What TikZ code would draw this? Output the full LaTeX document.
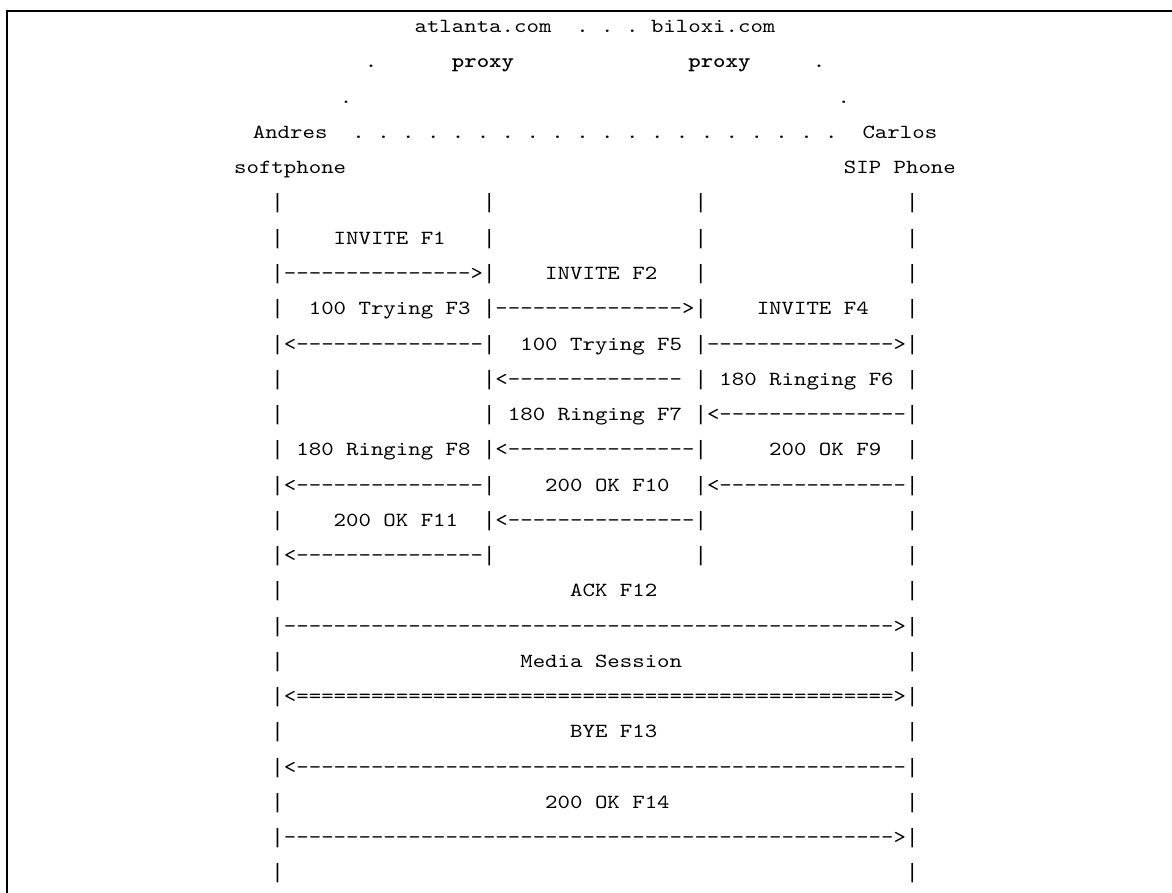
\documentclass[tikz,border=0pt]{standalone}
\font\asciitt="[lmmono10-regular]:extend=1.185" at 10pt
\font\asciibf="[lmmonolt10-bold]:extend=1.185" at 10pt
\font\asciibar="Liberation Mono" at 10.369pt
\newcommand\lane{{\asciibar|}}
\newcommand\dashrun[1]{\foreach\i in {1,...,#1}{-}}
\newcommand\eqrun[1]{\foreach\i in {1,...,#1}{=}}
\tikzset{
  msg/.style={anchor=base west,inner sep=0pt,outer sep=0pt,font=\asciitt},
  host/.style={msg,font=\asciibf},
  lifeline/.style={msg,font=\asciibar},
  frame/.style={line width=1pt}
}
\begin{document}
\begin{tikzpicture}[x=0.5pt,y=-0.5pt]
  \useasboundingbox (0,0) rectangle (1172,893);
  \draw[frame] (7,893) |- (1172,11);
  \begin{scope}[shift={(79.75pt,1.25pt)},x=6.2215pt,y=-17.625pt]
    % domains, proxies and phones
    \node[msg] (atl) at (20.5,1) {atlanta.com};
    \foreach \k in {0,1,2} \node[msg] (hdot-\k) at ({33.5+2*\k},1) {.};
    \node[msg] (bil) at (39.5,1) {biloxi.com};
    \node[msg] (pdl) at (16.5,2) {.};
    \node[host] (pa) at (23.5,2) {proxy};
    \node[host] (pb) at (42.5,2) {proxy};
    \node[msg] (pdr) at (52.5,2) {.};
    \node[msg] (sdl) at (14.5,3) {.};
    \node[msg] (sdr) at (54.5,3) {.};
    \node[msg] (andres) at (7.5,4) {Andres};
    \foreach \k in {0,...,19} \node[msg] (udot-\k) at ({15.5+2*\k},4) {.};
    \node[msg] (carlos) at (56.5,4) {Carlos};
    \node[msg] (soft) at (6,5) {softphone};
    \node[msg] (sip) at (55,5) {SIP Phone};
    % lifelines
    \foreach \r/\c in {6/9,6/26,6/43,6/60,7/9,7/26,7/43,7/60,8/43,8/60,
        9/9,9/60,11/9,11/43,11/60,12/9,12/26,13/9,13/60,15/9,15/60,
        16/43,16/60,17/9,17/60,19/9,19/60,21/9,21/60,23/9,23/60,25/9,25/60}
      \node[lifeline] (bar-\r-\c) at (\c,\r) {|};
    % messages
    \node[msg] (m1) at (14,7) {INVITE F1};
    \node[msg] (a1) at (9,8) {\lane\dashrun{15}>\lane};
    \node[msg] (m2) at (31,8) {INVITE F2};
    \node[msg] (m3) at (12,9) {100 Trying F3};
    \node[msg] (a2) at (26,9) {\lane\dashrun{15}>\lane};
    \node[msg] (m4) at (48,9) {INVITE F4};
    \node[msg] (a3) at (9,10) {\lane<\dashrun{15}\lane};
    \node[msg] (m5) at (29,10) {100 Trying F5};
    \node[msg] (a4) at (43,10) {\lane\dashrun{15}>\lane};
    \node[msg] (a5) at (26,11) {\lane<\dashrun{14}};
    \node[msg] (m6) at (45,11) {180 Ringing F6};
    \node[msg] (m7) at (28,12) {180 Ringing F7};
    \node[msg] (a6) at (43,12) {\lane<\dashrun{15}\lane};
    \node[msg] (m8) at (11,13) {180 Ringing F8};
    \node[msg] (a7) at (26,13) {\lane<\dashrun{15}\lane};
    \node[msg] (m9) at (49,13) {200 OK F9};
    \node[msg] (a8) at (9,14) {\lane<\dashrun{15}\lane};
    \node[msg] (m10) at (31,14) {200 OK F10};
    \node[msg] (a9) at (43,14) {\lane<\dashrun{15}\lane};
    \node[msg] (m11) at (14,15) {200 OK F11};
    \node[msg] (a10) at (26,15) {\lane<\dashrun{15}\lane};
    \node[msg] (a11) at (9,16) {\lane<\dashrun{15}\lane};
    \node[msg] (m12) at (33,17) {ACK F12};
    \node[msg] (a12) at (9,18) {\lane\dashrun{49}>\lane};
    \node[msg] (media) at (29,19) {Media Session};
    \node[msg] (a13) at (9,20) {\lane<\eqrun{48}>\lane};
    \node[msg] (m13) at (33,21) {BYE F13};
    \node[msg] (a14) at (9,22) {\lane<\dashrun{49}\lane};
    \node[msg] (m14) at (31,23) {200 OK F14};
    \node[msg] (a15) at (9,24) {\lane\dashrun{49}>\lane};
  \end{scope}
\end{tikzpicture}
\end{document}
